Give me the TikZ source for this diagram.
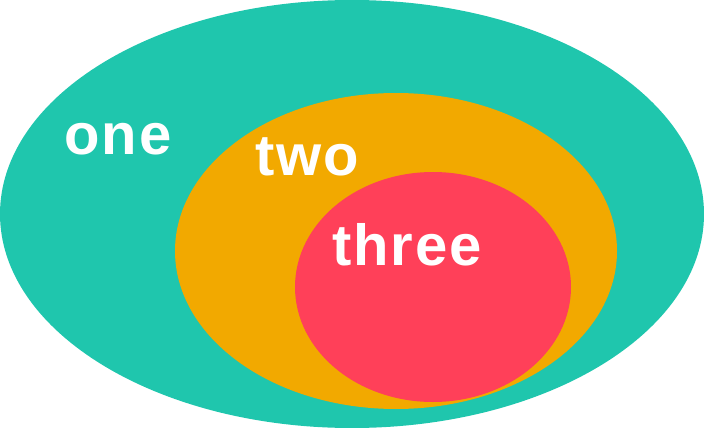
\documentclass[tikz,border=0pt]{standalone}
\usepackage{fontspec}
\setmainfont{Liberation Sans}
\newfontfamily\lblfont[LetterSpace=3]{Liberation Sans}
\definecolor{teal}{HTML}{1FC6AD}
\definecolor{orng}{HTML}{F2A900}
\definecolor{rd}{HTML}{FF4059}
\begin{document}
\begin{tikzpicture}[x=1pt,y=-1pt,
  lbl/.style={text=white,font=\lblfont\fontsize{58}{60}\selectfont\bfseries,anchor=base,inner sep=0pt}]
\useasboundingbox (0,0) rectangle (704,428);
\fill[teal] (352,214) ellipse [x radius=352,y radius=214];
\fill[orng] (396,251) ellipse [x radius=221,y radius=158];
\fill[rd] (433,287) ellipse [x radius=138,y radius=115];
\node[lbl] (one) at (118,154) {one};
\node[lbl] (two) at (307,175) {two};
\node[lbl] (three) at (407,265) {three};
\end{tikzpicture}
\end{document}
